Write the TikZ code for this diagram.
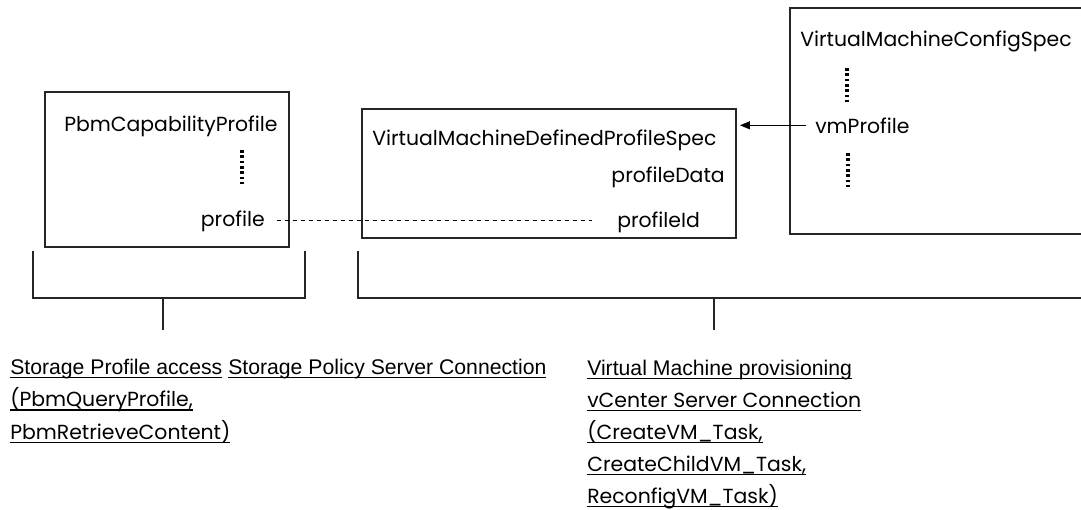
\documentclass[tikz,border=0pt]{standalone}
\usepackage{fontspec}
\setmainfont{Poppins}
\newfontfamily\arialfont{Liberation Sans}
\usetikzlibrary{arrows.meta}

% underline at a fixed depth, a bit heavier than \underline
\newcommand\linkul[1]{\setbox0\hbox{#1}\rlap{\copy0}\rule[-3.2pt]{\wd0}{1.1pt}}

\tikzset{
  classbox/.style={draw=black!85, line width=0.9pt, inner sep=0pt},
  field/.style={inner sep=0.75pt, font=\fontsize{15.3}{18}\selectfont},
  linktext/.style={inner sep=0.75pt, font=\fontsize{15.3}{18}\selectfont},
  armtext/.style={inner sep=0.75pt, font=\arialfont\fontsize{15.9}{18}\selectfont},
  moredots/.style={line width=2.6pt, dash pattern=on 2pt off 2pt, line cap=butt},
  refline/.style={line width=0.6pt, dash pattern=on 3.5pt off 2.5pt},
  bracket/.style={draw=black!85, line width=0.9pt}
}

\begin{document}
\begin{tikzpicture}[x=0.75pt,y=0.75pt,yscale=-1,xscale=1]
\useasboundingbox (0,0) rectangle (1081,510);

        % the three class boxes
        \draw (167,169.5) node (capbox) [classbox, minimum width=183pt, minimum height=116.25pt] {};
        \draw (549,173.5) node (specbox) [classbox, minimum width=280.5pt, minimum height=96.75pt] {};
        \draw (945,121) node (cfgbox) [classbox, minimum width=232.5pt, minimum height=169.5pt] {};

        \draw (63,132) node (capname) [anchor=base west][field] {PbmCapabilityProfile};
        \draw (266,226) node (profile) [anchor=base east][field] {profile};
        \draw [moredots] (242,150) -- (242,184);

        \draw (371,145) node (specname) [anchor=base west][field] {VirtualMachineDefinedProfileSpec};
        \draw (726,182) node (profdata) [anchor=base east][field] {profileData};
        \draw (616,227) node (profid) [anchor=base west][field] {profileId};

        \draw (799,47) node (cfgname) [anchor=base west][field] {VirtualMachineConfigSpec};
        \draw (814,133) node (vmprof) [anchor=base west][field] {vmProfile};
        \draw [moredots] (847,68) -- (847,102);
        \draw [moredots] (848,153) -- (848,187);

        % references
        \draw [refline, shorten <=8pt, shorten >=18pt] (profile.east) -- (profile.east -| profid.west);
        \draw [line width=0.8pt, -{Triangle[length=7.5pt,width=6pt]}, shorten <=6pt, shorten >=2.5pt] (vmprof.west) -- (vmprof.west -| specbox.east);

        % brackets
        \draw [bracket] (33,251) |- (305,298) -- (305,251);
        \draw [bracket] (163,298) -- (163,330);
        \draw [bracket] (358,251) |- (1081,298);
        \draw [bracket] (714,298) -- (714,330);

        % operations
        \draw (9,374) node (spbmA) [anchor=base west][armtext] {\linkul{Storage Profile access} \linkul{Storage Policy Server Connection}};
        \draw (9,406.5) node (spbmB) [anchor=base west][linktext] {\linkul{(PbmQueryProfile,}};
        \draw (9,439) node (spbmC) [anchor=base west][linktext] {\linkul{PbmRetrieveContent)}};

        \draw (586,375) node (vcA) [anchor=base west][armtext] {\linkul{Virtual Machine provisioning}};
        \draw (586,407) node (vcB) [anchor=base west][linktext] {\linkul{vCenter Server Connection}};
        \draw (586,439) node (vcC) [anchor=base west][linktext] {\linkul{(CreateVM\_Task,}};
        \draw (586,471) node (vcD) [anchor=base west][linktext] {\linkul{CreateChildVM\_Task,}};
        \draw (586,503) node (vcE) [anchor=base west][linktext] {\linkul{ReconfigVM\_Task)}};
    \end{tikzpicture}
\end{document}
